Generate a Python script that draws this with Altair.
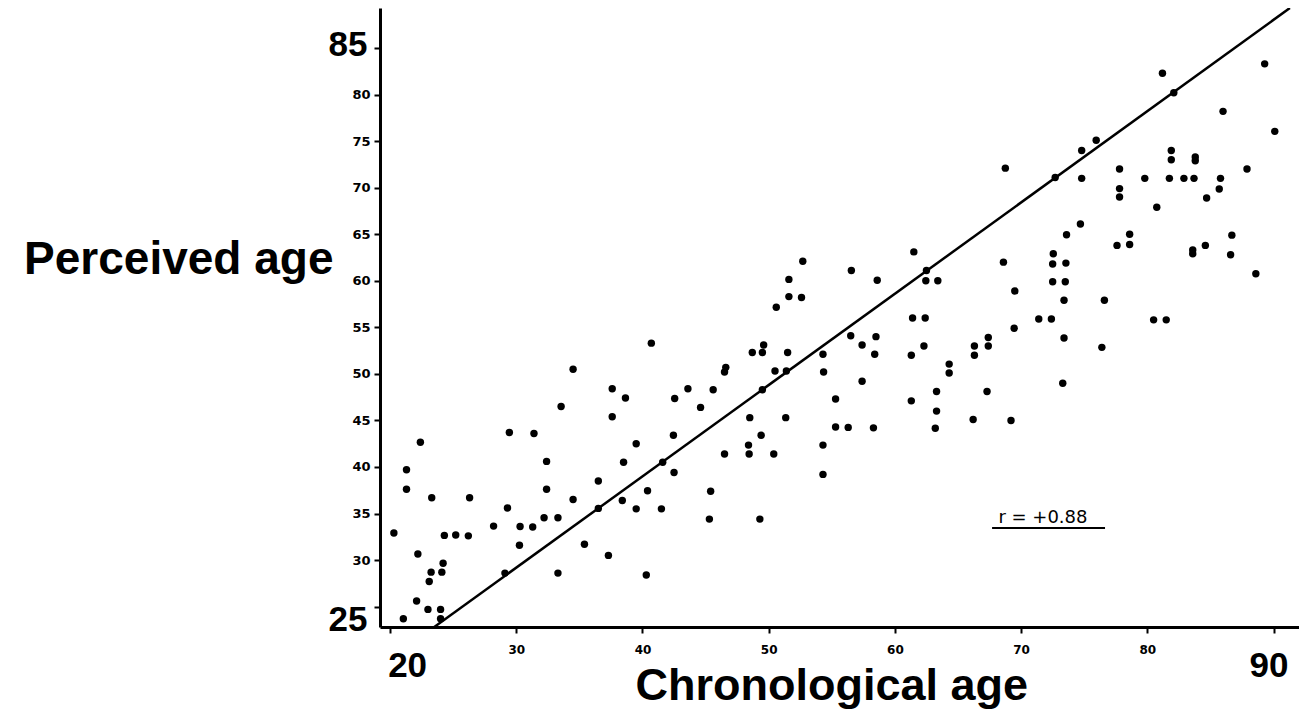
import altair as alt
import pandas as pd

# ---- data ----
chronological = [
    20.3, 21.05, 21.3, 21.3, 22.4, 22.2, 22.1, 23.3, 23.1, 23.25, 23.0, 24.0, 24.0, 24.1, 24.2, 24.3,
    25.2, 26.2, 26.3, 28.2, 29.1, 29.3, 29.45, 30.3, 30.25, 31.3, 31.4, 32.4, 32.4, 32.2, 33.3, 33.3,
    33.55, 34.5, 34.5, 35.4, 36.5, 36.5, 37.6, 37.6, 37.3, 38.65, 38.5, 38.4, 39.5, 39.5, 40.4, 40.3,
    40.7, 41.5, 41.6,
    42.5, 42.45, 42.55, 43.6, 44.6, 45.4, 45.3, 45.6, 46.5, 46.5, 46.6, 48.5, 48.4, 48.45, 48.7, 49.4,
    49.6, 49.5, 49.5, 49.3, 50.4, 50.5, 50.6, 51.35, 51.4, 51.5, 51.6, 51.6, 52.6, 52.7, 54.3, 54.35,
    54.3, 54.3, 55.3, 55.3, 56.3, 56.5, 56.55, 57.4, 57.4, 58.3, 58.4, 58.5, 58.6, 61.3, 61.3, 61.4,
    61.5, 62.3, 62.4, 62.45, 62.5, 63.3, 63.3, 63.2, 63.4,
    64.3, 64.3, 68.75, 68.6, 69.5, 69.45, 67.4, 66.3, 67.4, 66.3, 67.3, 66.2, 69.2, 72.7, 74.8, 75.95,
    74.8, 74.7, 73.6, 72.55, 72.5, 73.55, 72.5, 73.5, 73.4, 71.4, 72.4, 73.4, 73.3, 76.6, 76.4, 77.8,
    77.8, 77.8, 77.6, 78.6, 78.6, 79.8, 80.75, 80.5, 81.5, 81.2, 82.1, 81.9, 81.9, 81.75, 82.9, 83.7,
    83.8, 83.8, 83.6, 83.6, 84.6, 84.7, 85.8, 85.7, 86.0, 86.7, 86.6, 87.9, 88.6, 89.3, 90.1,
]
perceived = [
    32.9, 23.7, 39.7, 37.6, 42.65, 30.65, 25.6, 36.7, 27.7, 28.7, 24.7, 24.7, 23.7, 28.7, 29.65, 32.65,
    32.7, 32.6, 36.7, 33.65, 28.6, 35.6, 43.7, 33.6, 31.6, 33.55, 43.6, 40.6, 37.6, 34.55, 34.55, 28.6,
    46.5, 36.5, 50.5, 31.7, 38.5, 35.55, 48.4, 45.4, 30.5, 47.4, 40.5, 36.4, 42.5, 35.5, 37.45, 28.4,
    53.3, 35.5, 40.5,
    39.4, 43.4, 47.35, 48.4, 46.4, 37.4, 34.4, 48.3, 41.4, 50.2, 50.7, 45.3, 42.35, 41.4, 52.3, 43.4,
    53.1, 52.3, 48.3, 34.4, 41.4, 50.3, 57.15, 45.3, 50.3, 52.3, 58.3, 60.15, 58.2, 62.1, 52.1, 50.2,
    42.35, 39.2, 47.3, 44.3, 44.25, 54.1, 61.1, 53.1, 49.2, 44.2, 52.1, 54.0, 60.05, 47.1, 52.0, 56.0,
    63.1, 53.0, 56.0, 60.0, 61.1, 48.1, 46.0, 44.15, 60.0,
    51.05, 50.1, 72.1, 62.0, 58.9, 54.9, 53.9, 53.0, 53.0, 52.0, 48.1, 45.1, 45.0, 71.1, 74.0, 75.1,
    71.0, 66.1, 64.95, 62.9, 61.8, 61.9, 59.9, 59.9, 57.9, 55.9, 55.9, 53.85, 49.0, 57.9, 52.85, 72.0,
    69.9, 69.0, 63.8, 65.0, 63.9, 71.0, 67.9, 55.8, 55.8, 82.3, 80.2, 74.0, 73.0, 71.0, 71.0, 71.0,
    73.3, 72.9, 63.3, 62.9, 63.8, 68.9, 71.0, 69.85, 78.2, 64.9, 62.8, 72.0, 60.75, 83.3, 76.05,
]
fit_chronological = [23.5, 91.3]
fit_perceived = [22.81, 89.3]
x_ticks = [20, 30, 40, 50, 60, 70, 80, 90]
y_ticks = [25, 30, 35, 40, 45, 50, 55, 60, 65, 70, 75, 80, 85]
r_text = ["r = +0.88"]
r_x = [68.2]
r_y = [34.0]
underline_x = [67.7]
underline_x2 = [76.65]
underline_y = [33.45]

X_DOMAIN = [19.2, 92.02]
Y_DOMAIN = [22.81, 89.3]

points = pd.DataFrame({"chrono": chronological, "perc": perceived})
fit = pd.DataFrame({"chrono": fit_chronological, "perc": fit_perceived})
note = pd.DataFrame({"chrono": r_x, "perc": r_y, "label": r_text})
uline = pd.DataFrame({"chrono": underline_x, "chrono2": underline_x2, "perc": underline_y})

xs = alt.Scale(domain=X_DOMAIN, nice=False, zero=False)
ys = alt.Scale(domain=Y_DOMAIN, nice=False, zero=False)

big_x = "datum.value == 20 || datum.value == 90"
big_y = "datum.value == 25 || datum.value == 85"

x_axis = alt.Axis(
    values=x_ticks, title="Chronological age", grid=False,
    domainColor="black", domainWidth=3, tickColor="black", tickWidth=2, tickSize=6,
    labelColor="black", labelFontWeight="bold",
    labelFont={"condition": {"test": big_x, "value": "Liberation Sans"}, "value": "DejaVu Sans"},
    labelFontSize={"condition": {"test": big_x, "value": 35}, "value": 12},
    labelBaseline="alphabetic",
    labelPadding={"condition": {"test": big_x, "value": 43}, "value": 20},
    labelOffset={"condition": [{"test": "datum.value == 20", "value": 17},
                               {"test": "datum.value == 90", "value": -5}], "value": 0},
    labelFlush=False, labelOverlap=False,
    titleFont="Liberation Sans", titleFontSize=45, titleFontWeight="bold", titleColor="black",
    titleAlign="left", titleBaseline="alphabetic", titleX=255, titleY=72,
)

y_axis = alt.Axis(
    values=y_ticks, title="Perceived age", grid=False,
    domainColor="black", domainWidth=3, tickColor="black", tickWidth=2, tickSize=6,
    labelColor="black", labelFontWeight="bold",
    labelFont={"condition": {"test": big_y, "value": "Liberation Sans"}, "value": "DejaVu Sans"},
    labelFontSize={"condition": {"test": big_y, "value": 35}, "value": 13},
    labelPadding={"condition": {"test": big_y, "value": 7}, "value": 4},
    labelOffset={"condition": [{"test": "datum.value == 85", "value": -4},
                               {"test": "datum.value == 25", "value": 13}], "value": 0},
    labelFlush=False, labelOverlap=False,
    titleFont="Liberation Sans", titleFontSize=46, titleFontWeight="bold", titleColor="black",
    titleAngle=0, titleAlign="right", titleBaseline="alphabetic", titleX=-47, titleY=265,
)

dots = alt.Chart(points).mark_circle(size=55, color="black", opacity=1).encode(
    x=alt.X("chrono:Q", scale=xs, axis=x_axis),
    y=alt.Y("perc:Q", scale=ys, axis=y_axis),
)

line = alt.Chart(fit).mark_line(color="black", strokeWidth=2.5).encode(
    x=alt.X("chrono:Q", scale=xs),
    y=alt.Y("perc:Q", scale=ys),
)

label = alt.Chart(note).mark_text(
    align="left", baseline="alphabetic", font="DejaVu Sans", fontSize=18, color="black"
).encode(
    x=alt.X("chrono:Q", scale=xs),
    y=alt.Y("perc:Q", scale=ys),
    text="label:N",
)

under = alt.Chart(uline).mark_rule(color="black", strokeWidth=2).encode(
    x=alt.X("chrono:Q", scale=xs),
    x2="chrono2:Q",
    y=alt.Y("perc:Q", scale=ys),
)

chart = alt.layer(line, dots, label, under).properties(
    width=919, height=619,
    padding={"left": 372, "top": 0, "right": 0, "bottom": 83},
    autosize=alt.AutoSizeParams(type="none"),
    background="white",
).configure_view(stroke=None)

chart.save("out.html", embed_options={"renderer": "svg", "actions": False})
